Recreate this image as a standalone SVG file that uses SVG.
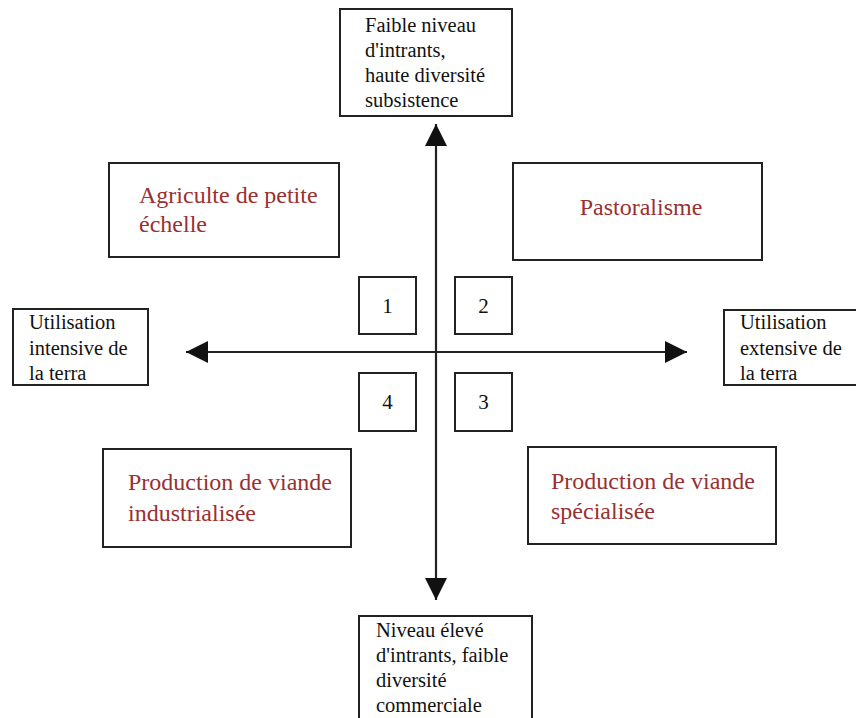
<svg xmlns="http://www.w3.org/2000/svg" width="856" height="718" viewBox="0 0 856 718">
<style>
.box{fill:#fff;stroke:#222;stroke-width:2}
.t{font-family:"Liberation Serif","Times New Roman",serif;font-size:20.5px;fill:#111}
.r{font-family:"Liberation Serif","Times New Roman",serif;font-size:24px;fill:#9a3030}
.n{font-family:"Liberation Serif","Times New Roman",serif;font-size:21px;fill:#111;text-anchor:middle}
.ax{stroke:#222;stroke-width:2.2;fill:none}
</style>
<defs>
<marker id="ah" viewBox="0 0 22 22" refX="22" refY="11" markerWidth="22" markerHeight="22" markerUnits="userSpaceOnUse" orient="auto">
<path d="M0,0 L22,11 L0,22 Z" fill="#111"/>
</marker>
</defs>
<rect width="856" height="718" fill="#fff"/>
<g id="connectors">
<line class="ax" x1="436" y1="352" x2="436" y2="124" marker-end="url(#ah)"/>
<line class="ax" x1="436" y1="352" x2="436" y2="600" marker-end="url(#ah)"/>
<line class="ax" x1="436" y1="352" x2="186" y2="352" marker-end="url(#ah)"/>
<line class="ax" x1="436" y1="352" x2="687" y2="352" marker-end="url(#ah)"/>
</g>
<g id="top">
<rect class="box" x="340" y="9" width="172" height="107"/>
<text class="t" x="365" y="32">Faible niveau</text>
<text class="t" x="365" y="57">d'intrants,</text>
<text class="t" x="365" y="82">haute diversité</text>
<text class="t" x="365" y="107">subsistence</text>
</g>
<g id="bottom">
<rect class="box" x="359" y="616" width="173" height="110"/>
<text class="t" x="376" y="637">Niveau élevé</text>
<text class="t" x="376" y="662">d'intrants, faible</text>
<text class="t" x="376" y="687">diversité</text>
<text class="t" x="376" y="712">commerciale</text>
</g>
<g id="left">
<rect class="box" x="13" y="309" width="135" height="76"/>
<text class="t" x="29" y="329">Utilisation</text>
<text class="t" x="29" y="355">intensive de</text>
<text class="t" x="29" y="380">la terra</text>
</g>
<g id="right">
<rect class="box" x="724" y="310" width="140" height="75"/>
<text class="t" x="740" y="329">Utilisation</text>
<text class="t" x="740" y="355">extensive de</text>
<text class="t" x="740" y="380">la terra</text>
</g>
<g id="agriculture">
<rect class="box" x="109" y="163" width="230" height="94"/>
<text class="r" x="139" y="203">Agriculte de petite</text>
<text class="r" x="139" y="232">échelle</text>
</g>
<g id="pastoralisme">
<rect class="box" x="513" y="163" width="249" height="97"/>
<text class="r" x="641" y="215" text-anchor="middle">Pastoralisme</text>
</g>
<g id="industrialisee">
<rect class="box" x="103" y="449" width="248" height="98"/>
<text class="r" x="128" y="490">Production de viande</text>
<text class="r" x="128" y="521">industrialisée</text>
</g>
<g id="specialisee">
<rect class="box" x="528" y="447" width="248" height="97"/>
<text class="r" x="551" y="489">Production de viande</text>
<text class="r" x="551" y="519">spécialisée</text>
</g>
<g id="q1"><rect class="box" x="359" y="277" width="57" height="57"/><text class="n" x="387.5" y="313">1</text></g>
<g id="q2"><rect class="box" x="455" y="277" width="57" height="57"/><text class="n" x="483.5" y="313">2</text></g>
<g id="q4"><rect class="box" x="359" y="373" width="57" height="58"/><text class="n" x="387.5" y="409">4</text></g>
<g id="q3"><rect class="box" x="455" y="373" width="57" height="58"/><text class="n" x="483.5" y="409">3</text></g>
</svg>
